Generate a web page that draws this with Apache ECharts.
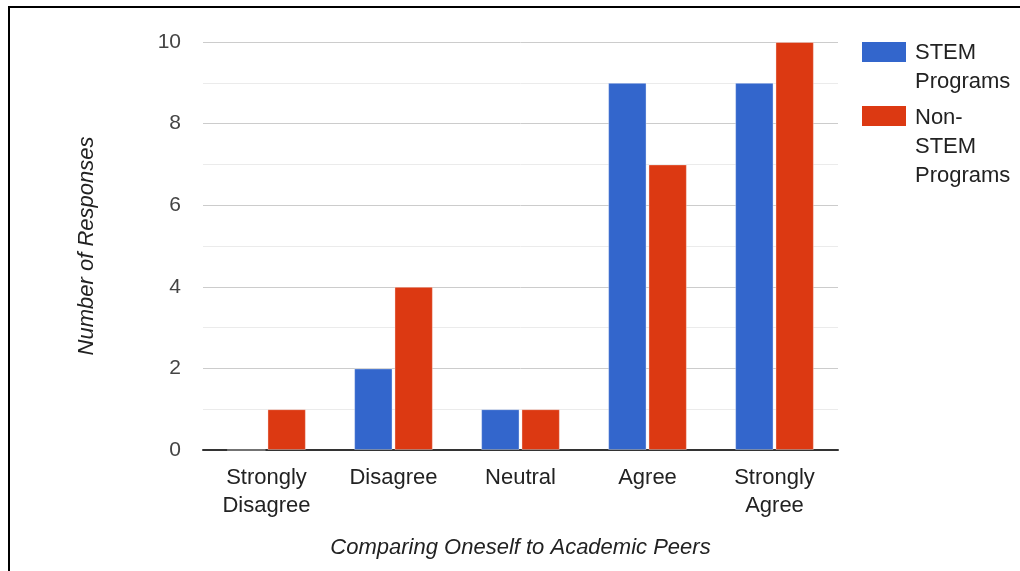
<!DOCTYPE html>
<html>
<head>
<meta charset="utf-8">
<script src="https://cdn.jsdelivr.net/npm/echarts@6/dist/echarts.min.js"></script>
<style>
  html, body { margin: 0; padding: 0; background: #fff; }
  #chart { width: 1020px; height: 571px; }
</style>
</head>
<body>
<div id="chart"></div>
<script>
// Survey responses: comparing oneself to academic peers
const categories = ['Strongly\nDisagree', 'Disagree', 'Neutral', 'Agree', 'Strongly\nAgree'];
const seriesNames = ['STEM Programs', 'Non-STEM Programs'];
const legendLabels = ['STEM\nPrograms', 'Non-\nSTEM\nPrograms'];
const stemValues = [0, 2, 1, 9, 9];
const nonStemValues = [1, 4, 1, 7, 10];
const colors = ['#3366cc', '#dc3912'];

const FONT = '"Liberation Sans", Arial, sans-serif';

const chart = echarts.init(document.getElementById('chart'));

// Legend swatches and labels, drawn at the right of the plot
const legendGraphics = [];
const legendTops = [42, 106];
legendLabels.forEach((label, i) => {
  legendGraphics.push({
    type: 'rect',
    left: 862, top: legendTops[i],
    shape: { width: 44, height: 20 },
    style: { fill: colors[i] }
  });
  legendGraphics.push({
    type: 'text',
    left: 915, top: legendTops[i] - 4 + i,
    style: {
      text: label, fill: '#222', font: '22px ' + FONT, lineHeight: 29
    }
  });
});

chart.setOption({
  animation: false,
  color: colors,
  grid: { left: 203, right: 182, top: 42, bottom: 121 },
  xAxis: {
    type: 'category',
    data: categories,
    name: 'Comparing Oneself to Academic Peers',
    nameLocation: 'middle',
    nameGap: 87,
    nameTextStyle: { fontFamily: FONT, fontSize: 22, fontStyle: 'italic', color: '#222' },
    axisLine: { lineStyle: { color: '#333', width: 2 } },
    axisTick: { show: false },
    axisLabel: { fontFamily: FONT, fontSize: 22, color: '#222', lineHeight: 28, margin: 14 }
  },
  yAxis: {
    type: 'value',
    min: 0, max: 10, interval: 2,
    name: 'Number of Responses',
    nameLocation: 'middle',
    nameGap: 105,
    nameTextStyle: { fontFamily: FONT, fontSize: 22, fontStyle: 'italic', color: '#222' },
    axisLine: { show: false },
    axisTick: { show: false },
    axisLabel: { fontFamily: FONT, fontSize: 21, color: '#444', margin: 22 },
    splitLine: { lineStyle: { color: '#cccccc', width: 1 } },
    minorTick: { show: false, splitNumber: 2 },
    minorSplitLine: { show: true, lineStyle: { color: '#ebebeb', width: 1 } }
  },
  series: [
    {
      name: seriesNames[0], type: 'bar', data: stemValues,
      barGap: '5%', barCategoryGap: '38%',
      itemStyle: { borderColor: 'rgba(255,255,255,0.35)', borderWidth: 1 }
    },
    {
      name: seriesNames[1], type: 'bar', data: nonStemValues,
      itemStyle: { borderColor: 'rgba(255,255,255,0.35)', borderWidth: 1 }
    }
  ],
  graphic: [
    // frame around the figure
    { type: 'line', shape: { x1: 9, y1: 6, x2: 9, y2: 571 }, style: { stroke: '#000', lineWidth: 2 } },
    { type: 'line', shape: { x1: 8, y1: 7, x2: 1020, y2: 7 }, style: { stroke: '#000', lineWidth: 2 } }
  ].concat(legendGraphics)
});
</script>
</body>
</html>
